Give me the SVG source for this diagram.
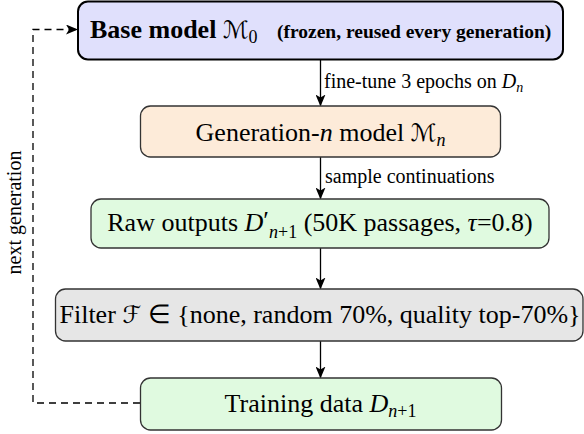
<svg xmlns="http://www.w3.org/2000/svg" width="584" height="434" viewBox="0 0 584 434">
<defs>
<style>
.t{font-family:"Liberation Serif","Times New Roman",serif;fill:#000}
.box{font-size:26px}
.lab{font-size:20px}
.it{font-style:italic}
.cal{font-family:"DejaVu Serif","DejaVu Sans",serif;font-style:italic}
.sub{font-size:18px}
.node{stroke:#333;stroke-width:1.3}
.edge{fill:none;stroke:#000;stroke-width:1.3}
.dash{fill:none;stroke:#000;stroke-width:1.3;stroke-dasharray:7 5}
</style>
<marker id="ah" viewBox="0 0 12 10" refX="11" refY="5" markerWidth="12" markerHeight="10" markerUnits="userSpaceOnUse" orient="auto">
<path d="M0,0 L12,5 L0,10 L3,5 z" fill="#000"/>
</marker>
</defs>
<g id="connectors">
<line class="edge" x1="320.5" y1="60" x2="320.5" y2="105.5" marker-end="url(#ah)"/>
<line class="edge" x1="320.5" y1="157" x2="320.5" y2="198.5" marker-end="url(#ah)"/>
<line class="edge" x1="320.5" y1="248" x2="320.5" y2="288.5" marker-end="url(#ah)"/>
<line class="edge" x1="320.5" y1="341" x2="320.5" y2="377.5" marker-end="url(#ah)"/>
<path class="dash" d="M140,403 H33 V29.5 H77" marker-end="url(#ah)"/>
<text class="t lab" x="324" y="88">fine-tune 3 epochs on <tspan class="it">D</tspan><tspan class="it" style="font-size:14px" dy="4">n</tspan></text>
<text class="t lab" x="325" y="183">sample continuations</text>
<text class="t lab" transform="translate(21,212.5) rotate(-90)" text-anchor="middle">next generation</text>
</g>
<g id="base">
<rect x="78" y="1.5" width="485" height="58" rx="10" fill="#e0e0fc" stroke="#000" stroke-width="2"/>
<text class="t" x="90" y="38" font-weight="bold"><tspan style="font-size:26px">Base model </tspan><tspan class="cal" style="font-size:24px;font-weight:normal">ℳ</tspan><tspan style="font-size:18px;font-weight:normal" dy="5">0</tspan><tspan x="277" dy="-5" style="font-size:19.5px">(frozen, reused every generation)</tspan></text>
</g>
<g id="gen">
<rect class="node" x="140.5" y="106" width="360" height="51" rx="10" fill="#fdebd9"/>
<text class="t box" x="320.5" y="141" text-anchor="middle">Generation-<tspan class="it">n</tspan> model <tspan class="cal" style="font-size:24px">ℳ</tspan><tspan class="it sub" dy="5">n</tspan></text>
</g>
<g id="raw">
<rect class="node" x="91" y="199" width="458" height="49" rx="10" fill="#e0fae0"/>
<text class="t box" x="320" y="231" text-anchor="middle">Raw outputs <tspan class="it">D</tspan><tspan dy="-2">′</tspan><tspan class="sub" dy="9"><tspan class="it">n</tspan>+1</tspan><tspan dy="-7"> (50K passages, </tspan><tspan class="it">τ</tspan>=0.8)</text>
</g>
<g id="filter">
<rect class="node" x="55.5" y="289" width="527.5" height="52" rx="10" fill="#e6e6e6"/>
<text class="t box" x="320" y="323" text-anchor="middle">Filter <tspan class="cal" style="font-size:24px">ℱ</tspan> ∈ {none, random 70%, quality top-70%}</text>
</g>
<g id="train">
<rect class="node" x="140.5" y="378" width="361" height="52" rx="10" fill="#e0fae0"/>
<text class="t box" x="320.5" y="412" text-anchor="middle">Training data <tspan class="it">D</tspan><tspan class="sub" dy="5"><tspan class="it">n</tspan>+1</tspan></text>
</g>
</svg>
